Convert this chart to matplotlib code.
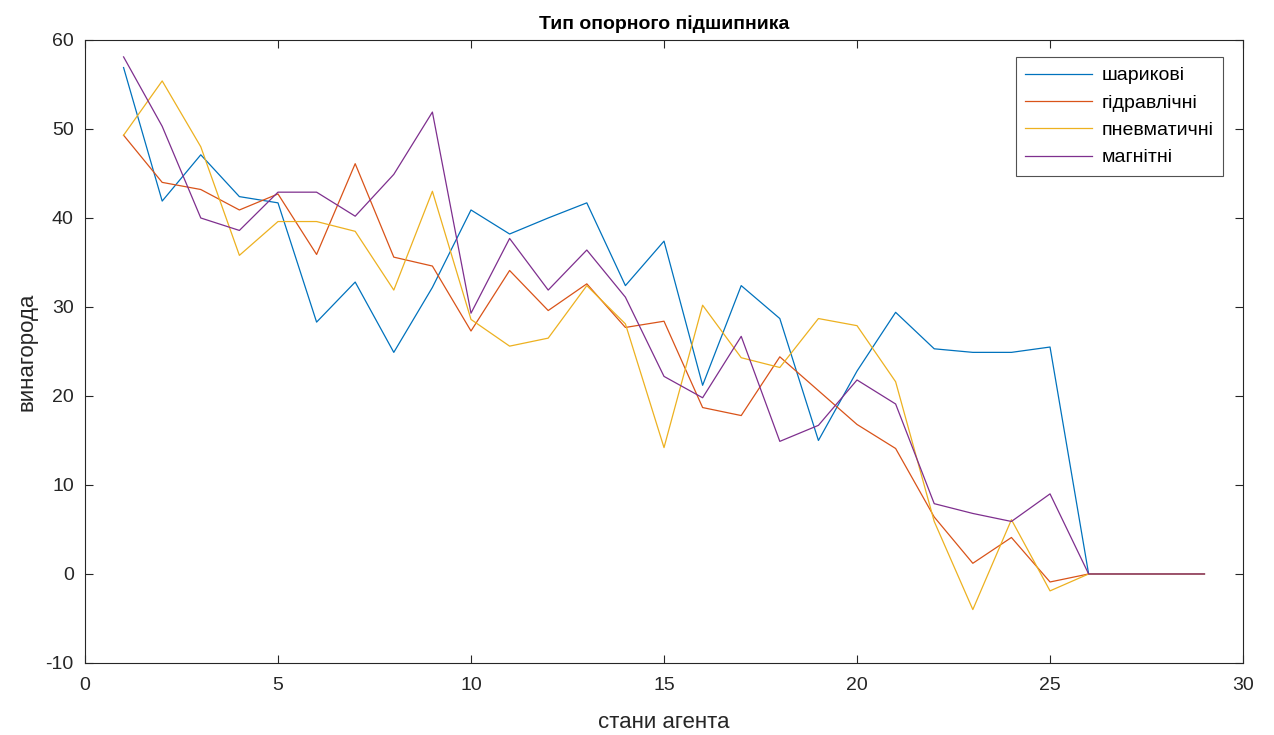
import numpy as np
import matplotlib.pyplot as plt

plt.rcParams['font.family'] = ['Liberation Sans', 'DejaVu Sans']
plt.rcParams['axes.unicode_minus'] = False

# стани агента
states = np.arange(1, 30)

labels = ['шарикові', 'гідравлічні', 'пневматичні', 'магнітні']
colors = ['#0072BD', '#D95319', '#EDB120', '#7E2F8E']

ball = [56.9, 41.9, 47.1, 42.4, 41.7, 28.3, 32.8, 24.9, 32.2, 40.9,
        38.2, 40.0, 41.7, 32.4, 37.4, 21.2, 32.4, 28.7, 15.0, 22.8,
        29.4, 25.3, 24.9, 24.9, 25.5, 0, 0, 0, 0]
hydraulic = [49.3, 44.0, 43.2, 40.9, 42.7, 35.9, 46.1, 35.6, 34.6, 27.3,
             34.1, 29.6, 32.6, 27.7, 28.4, 18.7, 17.8, 24.4, 20.6, 16.8,
             14.1, 6.4, 1.2, 4.1, -0.9, 0, 0, 0, 0]
pneumatic = [49.3, 55.4, 48.0, 35.8, 39.6, 39.6, 38.5, 31.9, 43.0, 28.6,
             25.6, 26.5, 32.4, 28.1, 14.2, 30.2, 24.3, 23.2, 28.7, 27.9,
             21.6, 5.9, -4.0, 6.1, -1.9, 0, 0, 0, 0]
magnetic = [58.1, 50.3, 40.0, 38.6, 42.9, 42.9, 40.2, 44.9, 51.9, 29.3,
            37.7, 31.9, 36.4, 31.1, 22.2, 19.8, 26.7, 14.9, 16.7, 21.8,
            19.1, 7.9, 6.8, 5.9, 9.0, 0, 0, 0, 0]

fig = plt.figure(figsize=(12.74, 7.35), dpi=100)
ax = fig.add_axes([0.0667, 0.098, 0.909, 0.8476])

for vals, lab, c in zip([ball, hydraulic, pneumatic, magnetic], labels, colors):
    ax.plot(states, vals, color=c, linewidth=0.9, label=lab)

ax.set_xlim(0, 30)
ax.set_ylim(-10, 60)
ax.set_xticks(np.arange(0, 31, 5))
ax.set_yticks(np.arange(-10, 61, 10))

axcol = '#262626'
for s in ax.spines.values():
    s.set_color(axcol)
    s.set_linewidth(0.8)
ax.tick_params(direction='in', top=True, right=True, length=6, width=0.8,
               colors=axcol, labelsize=14, labelcolor=axcol)
ax.tick_params(axis='x', pad=10)
ax.tick_params(axis='y', pad=8)

ax.set_title('Тип опорного підшипника', fontsize=14, fontweight='bold', pad=8)
ax.set_xlabel('стани агента', fontsize=16, color=axcol, labelpad=13)
ax.set_ylabel('винагорода', fontsize=16, color=axcol, labelpad=6)

leg = ax.legend(loc='upper right', fontsize=14, frameon=True, fancybox=False,
                edgecolor=axcol, handlelength=3.4, handletextpad=0.5,
                borderpad=0.5, labelspacing=0.5, borderaxespad=0,
                bbox_to_anchor=(0.9827, 0.9727))
leg.get_frame().set_linewidth(0.8)

plt.savefig('out.png', dpi=100)
